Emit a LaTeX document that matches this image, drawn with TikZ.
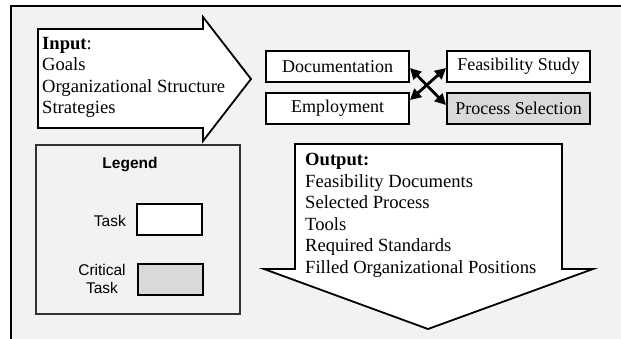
\documentclass[tikz,border=0pt]{standalone}
\usepackage{fontspec}
\setmainfont{Liberation Serif}
\setsansfont{Liberation Sans}
\usetikzlibrary{arrows.meta}
\definecolor{bgc}{HTML}{F2F2F2}
\definecolor{critc}{HTML}{D9D9D9}
\begin{document}
\begin{tikzpicture}[x=1pt,y=-1pt,
  taskbox/.style={draw=black,line width=2pt,fill=white,minimum width=143pt,minimum height=31pt,inner sep=0pt,font=\rmfamily\fontsize{18}{21}\selectfont},
  crit/.style={taskbox,fill=critc},
  bigarrow/.style={draw=black,line width=1.8pt,fill=white,line join=miter},
  txt/.style={anchor=base west,inner sep=0pt,font=\rmfamily\fontsize{18.6}{21}\selectfont},
  legtxt/.style={inner sep=0pt,font=\sffamily\fontsize{15.5}{18.5}\selectfont,align=center},
  legbox/.style={draw=black,line width=2pt,minimum width=65pt,minimum height=31pt,inner sep=0pt},
  dbl/.style={line width=2.8pt,{Triangle[length=11pt,width=11pt]}-{Triangle[length=11pt,width=11pt]}}]
\useasboundingbox (0,0) rectangle (621,338);
\begin{scope}
\clip (0,0) rectangle (621,338);
\draw[line width=2pt,fill=bgc] (11,6) rectangle (640,360);
\end{scope}
% input arrow
\draw[bigarrow] (38,29) -- (203,29) -- (203,17) -- (251,79) -- (203,141) -- (203,128) -- (38,128) -- cycle;
\node[txt] (in1) at (42,49) {\textbf{Input}:};
\node[txt] (in2) at (42,70.5) {Goals};
\node[txt] (in3) at (42,92) {Organizational Structure};
\node[txt] (in4) at (42,113.5) {Strategies};
% tasks
\node[taskbox] (doc) at (337.5,66.5) {Documentation};
\node[taskbox] (feas) at (518.5,66.5) {Feasibility Study};
\node[taskbox] (emp) at (337.5,108.5) {Employment};
\node[crit] (proc) at (518.5,108.5) {Process Selection};
\draw[dbl] ([yshift=-1.5pt]doc.east) -- ([yshift=3.5pt]proc.west);
\draw[dbl] ([yshift=8.5pt]emp.east) -- ([yshift=-1.5pt]feas.west);
% output arrow
\draw[bigarrow] (295,144) -- (562,144) -- (562,269) -- (593,269) -- (428,329) -- (264,269) -- (295,269) -- cycle;
\node[txt] (o0) at (305,165.5) {\textbf{Output:}};
\node[txt] (o1) at (305,187) {Feasibility Documents};
\node[txt] (o2) at (305,208.5) {Selected Process};
\node[txt] (o3) at (305,230) {Tools};
\node[txt] (o4) at (305,251.5) {Required Standards};
\node[txt] (o5) at (305,273) {Filled Organizational Positions};
% legend
\draw[draw=black!80,line width=1.1pt] (36,145) rectangle (240,314);
\node[legtxt,font=\sffamily\bfseries\fontsize{15.5}{18.5}\selectfont] (leg) at (130,165) {Legend};
\node[legbox,fill=white] (lt) at (169.5,219.5) {};
\node[legbox,fill=critc] (lc) at (170,279.5) {};
\node[legtxt,anchor=east] (ltl) at (126,221) {Task};
\node[legtxt] (lcl) at (102,279) {Critical\\Task};
\end{tikzpicture}
\end{document}
